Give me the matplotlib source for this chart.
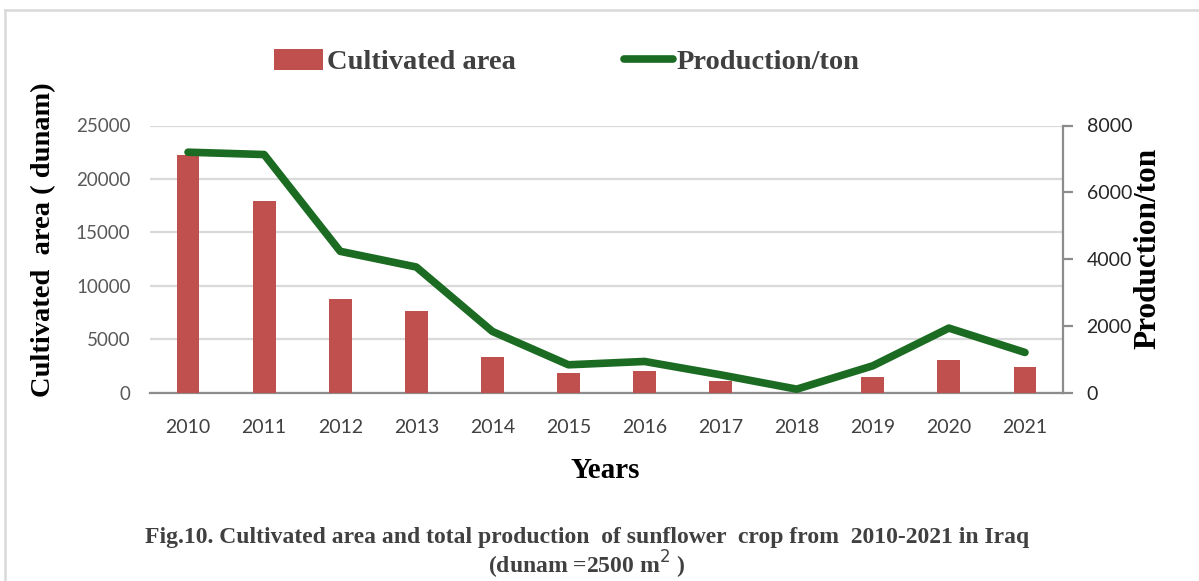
import matplotlib
matplotlib.use("Agg")
import matplotlib.pyplot as plt
from matplotlib.patches import Patch
from matplotlib.lines import Line2D
import numpy as np

years = ["2010", "2011", "2012", "2013", "2014", "2015",
         "2016", "2017", "2018", "2019", "2020", "2021"]
cultivated_area = [22200, 17900, 8800, 7600, 3370, 1800,
                   2050, 1100, 0, 1450, 3000, 2400]
production_ton = [7200, 7130, 4230, 3760, 1830, 830,
                  930, 530, 100, 800, 1930, 1200]
area_ticks = [0, 5000, 10000, 15000, 20000, 25000]
prod_ticks = [0, 2000, 4000, 6000, 8000]

BAR_COLOR = "#c0504d"
LINE_COLOR = "#1b6b22"
GRID_COLOR = "#d9d9d9"
AXIS_COLOR = "#8c8c8c"
SERIF = "Liberation Serif"
SANS = "Lato"

W, H = 1199, 581
fig = plt.figure(figsize=(W / 100, H / 100), dpi=100)
fig.patch.set_facecolor("white")

# frame lines along the top and left edges
fig.add_artist(Line2D([5 / W, 1], [1 - 10 / H, 1 - 10 / H], color=GRID_COLOR,
                      lw=1.8, transform=fig.transFigure))
fig.add_artist(Line2D([5 / W, 5 / W], [0, 1 - 10 / H], color=GRID_COLOR,
                      lw=1.8, transform=fig.transFigure))

left, right = 150 / W, 1063 / W
bottom, top = 1 - 392.5 / H, 1 - 125.5 / H
ax = fig.add_axes([left, bottom, right - left, top - bottom])
ax2 = ax.twinx()

x = np.arange(len(years))
ax.bar(x, cultivated_area, width=0.3, color=BAR_COLOR, zorder=3)
ax.set_xlim(-0.5, len(years) - 0.5)
ax.set_ylim(0, 25000)
ax.set_yticks(area_ticks)
ax.set_yticklabels([str(v) for v in area_ticks])
ax.set_xticks(x)
ax.set_xticklabels(years)
ax.yaxis.grid(True, color=GRID_COLOR, lw=1.6, zorder=0)
ax.set_axisbelow(True)
for side in ["left", "right", "top"]:
    ax.spines[side].set_visible(False)
ax.spines["bottom"].set_color(AXIS_COLOR)
ax.spines["bottom"].set_linewidth(1.6)
ax.tick_params(axis="y", length=0, pad=14, labelsize=13.5, labelcolor="#595959")
ax.tick_params(axis="x", length=0, pad=19, labelsize=14, labelcolor="#404040")
for lab in ax.get_xticklabels() + ax.get_yticklabels():
    lab.set_fontfamily(SANS)

ax2.plot(x, production_ton, color=LINE_COLOR, lw=5.5, solid_capstyle="round",
         solid_joinstyle="round", zorder=4)
ax2.set_ylim(0, 8000)
ax2.set_yticks(prod_ticks)
ax2.set_yticklabels([str(v) for v in prod_ticks])
for side in ["left", "top", "bottom"]:
    ax2.spines[side].set_visible(False)
ax2.spines["right"].set_color(AXIS_COLOR)
ax2.spines["right"].set_linewidth(1.6)
ax2.tick_params(axis="y", length=7, width=1.6, color=AXIS_COLOR, pad=10,
                labelsize=14, labelcolor="#262626")
for lab in ax2.get_yticklabels():
    lab.set_fontfamily(SANS)

# axis titles
fig.text(44 / W, 1 - 240 / H, "Cultivated  area ( dunam)", rotation=90,
         ha="center", va="center", family=SERIF, weight="bold", fontsize=20.5,
         color="black")
fig.text(1148 / W, 1 - 248 / H, "Production/ton", rotation=90,
         ha="center", va="center", family=SERIF, weight="bold", fontsize=22.5,
         color="black")
fig.text(605 / W, 1 - 471 / H, "Years", ha="center", va="center",
         family=SERIF, weight="bold", fontsize=21, color="black")

# legend
handles = [Patch(facecolor=BAR_COLOR, edgecolor="none"),
           Line2D([0], [0], color=LINE_COLOR, lw=5.5, solid_capstyle="round")]
fig.legend(handles, ["Cultivated area", "Production/ton"], ncol=2,
           loc="center", bbox_to_anchor=(567 / W, 1 - 62 / H),
           frameon=False, prop={"family": SERIF, "weight": "bold", "size": 20.5},
           labelcolor="#404040", handlelength=1.7, handleheight=0.8,
           handletextpad=0.15, columnspacing=3.8)

# caption
fig.text(587 / W, 1 - 538 / H,
         "Fig.10. Cultivated area and total production  of sunflower  crop from  2010-2021 in Iraq",
         ha="center", va="center", family=SERIF, weight="bold", fontsize=17,
         color="#404040")
fig.text(587 / W, 1 - 565 / H, "(dunam =2500 m$^{2}$ )",
         ha="center", va="center", family=SERIF, weight="bold", fontsize=17,
         color="#404040")

fig.savefig("out.png", dpi=100, facecolor="white")
